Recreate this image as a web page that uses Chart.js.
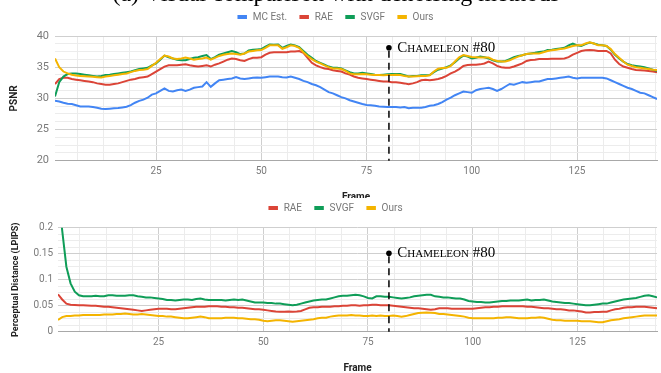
<!DOCTYPE html>
<html>
<head>
<meta charset="utf-8">
<script src="https://cdn.jsdelivr.net/npm/chart.js@4.4.1/dist/chart.umd.min.js"></script>
<style>
  html, body { margin: 0; padding: 0; background: #fff; overflow: hidden; }
  #wrap { position: relative; width: 661px; height: 373px; overflow: hidden; background: #fff; }
  #psnr { position: absolute; left: 0; top: 0; }
  #lpips { position: absolute; left: 0; top: 198px; background: #fff; }
</style>
</head>
<body>
<div id="wrap">
  <canvas id="psnr" width="661" height="198"></canvas>
  <canvas id="lpips" width="661" height="175"></canvas>
</div>
<script>
// Frame index shared by both panels
const frames = Array.from({ length: 144 }, (_, i) => i + 1);

// PSNR per frame (dB)
const mcEstPsnr = [
  29.6, 29.5, 29.3, 29.15, 29.1, 28.9, 28.7, 28.7, 28.7, 28.6, 28.5, 28.35,
  28.3, 28.35, 28.4, 28.45, 28.55, 28.65, 28.9, 29.3, 29.6, 29.8, 30.1, 30.6,
  30.8, 31.2, 31.6, 31.2, 31.1, 31.3, 31.4, 31.2, 31.4, 31.7, 31.8, 31.9,
  32.6, 31.85, 32.4, 32.9, 33.0, 33.1, 33.2, 33.4, 33.2, 33.1, 33.2, 33.3,
  33.35, 33.3, 33.4, 33.5, 33.5, 33.5, 33.4, 33.35, 33.5, 33.3, 33.1, 32.8,
  32.6, 32.3, 32.1, 31.8, 31.4, 31.0, 30.8, 30.5, 30.2, 30.0, 29.7, 29.5,
  29.3, 29.1, 28.95, 28.9, 28.8, 28.7, 28.65, 28.6, 28.6, 28.6, 28.55, 28.6,
  28.4, 28.5, 28.5, 28.5, 28.6, 28.8, 28.9, 29.1, 29.4, 29.8, 30.1, 30.5,
  30.8, 31.1, 31.0, 30.9, 31.3, 31.5, 31.6, 31.7, 31.5, 31.2, 31.5, 31.9,
  32.3, 32.2, 32.4, 32.6, 32.5, 32.6, 32.7, 32.7, 32.9, 33.1, 33.1, 33.2,
  33.3, 33.4, 33.5, 33.3, 33.2, 33.3, 33.3, 33.3, 33.3, 33.3, 33.3, 33.2,
  32.9, 32.6, 32.3, 32.0, 31.7, 31.5, 31.2, 30.9, 30.8, 30.5, 30.2, 29.9
];
const raePsnr = [
  32.3, 33.1, 33.3, 33.3, 33.1, 33.0, 32.9, 32.8, 32.7, 32.6, 32.4, 32.3,
  32.2, 32.2, 32.3, 32.4, 32.6, 32.8, 33.0, 33.1, 33.3, 33.4, 33.5, 33.9,
  34.3, 34.7, 35.1, 35.3, 35.3, 35.3, 35.4, 35.45, 35.3, 35.2, 35.1, 35.2,
  35.3, 35.1, 35.4, 35.6, 35.9, 36.2, 36.4, 36.3, 36.1, 36.0, 36.3, 36.5,
  36.5, 36.6, 37.0, 37.3, 37.4, 37.4, 37.4, 37.4, 37.5, 37.5, 37.6, 37.3,
  36.5, 35.7, 35.3, 35.0, 34.8, 34.7, 34.5, 34.4, 34.3, 34.0, 33.8, 33.5,
  33.3, 33.2, 33.1, 33.0, 32.9, 32.8, 32.7, 32.7, 32.6, 32.6, 32.5, 32.4,
  32.25, 32.4, 32.6, 32.9, 33.0, 32.9, 33.0, 33.1, 33.3, 33.6, 34.0, 34.3,
  34.7, 35.2, 35.35, 35.4, 35.4, 35.45, 35.6, 35.9, 35.6, 35.2, 35.0, 34.9,
  34.9, 35.1, 35.35, 35.6, 36.0, 36.15, 36.2, 36.3, 36.3, 36.3, 36.35, 36.35,
  36.35, 36.4, 36.6, 37.0, 37.3, 37.6, 37.7, 37.75, 37.7, 37.6, 37.6, 37.6,
  37.2, 36.2, 35.5, 35.1, 34.9, 34.7, 34.55, 34.5, 34.45, 34.4, 34.3, 34.2
];
const svgfPsnr = [
  30.3, 32.6, 33.5, 33.9, 34.0, 34.0, 33.9, 33.8, 33.7, 33.6, 33.5, 33.6,
  33.75, 33.8, 33.9, 34.0, 34.1, 34.2, 34.3, 34.5, 34.7, 34.8, 34.9, 35.3,
  35.6, 36.2, 36.85, 36.6, 36.4, 36.2, 36.1, 36.1, 36.3, 36.5, 36.6, 36.8,
  36.95, 36.3, 36.6, 37.0, 37.2, 37.4, 37.6, 37.4, 37.1, 37.2, 37.7, 37.8,
  37.85, 37.9, 38.3, 38.65, 38.6, 38.65, 38.1, 38.4, 38.65, 38.5, 38.2, 37.6,
  37.0, 36.5, 36.0, 35.7, 35.4, 35.1, 34.9, 34.9, 34.8, 34.5, 34.2, 34.0,
  34.0, 34.1, 34.0, 33.9, 33.8, 33.75, 33.8, 33.85, 33.9, 33.9, 33.9, 33.7,
  33.5, 33.6, 33.6, 33.7, 33.7, 33.75, 34.2, 34.6, 34.8, 35.0, 35.3, 35.8,
  36.4, 36.85, 36.7, 36.4, 36.5, 36.7, 36.6, 36.4, 36.1, 35.9, 35.9, 36.0,
  36.3, 36.6, 36.8, 36.9, 37.1, 37.2, 37.3, 37.45, 37.5, 37.75, 37.8, 37.9,
  38.0, 38.1, 38.5, 38.8, 38.5, 38.4, 38.7, 38.95, 38.8, 38.6, 38.5, 38.4,
  37.8, 37.0, 36.4, 35.9, 35.5, 35.3, 35.2, 35.1, 35.0, 34.8, 34.6, 34.4
];
const oursPsnr = [
  36.4, 35.0, 34.3, 34.0, 33.8, 33.65, 33.6, 33.55, 33.5, 33.45, 33.4, 33.35,
  33.5, 33.6, 33.7, 33.8, 33.9, 34.0, 34.2, 34.4, 34.55, 34.6, 34.7, 35.2,
  35.7, 36.3, 36.85, 36.7, 36.4, 36.3, 36.4, 36.55, 36.4, 36.2, 36.3, 36.4,
  36.55, 36.2, 36.5, 36.8, 37.0, 37.1, 37.2, 37.1, 37.0, 37.2, 37.5, 37.6,
  37.7, 37.75, 38.1, 38.5, 38.5, 38.5, 37.95, 38.2, 38.5, 38.4, 38.1, 37.4,
  36.8, 36.3, 35.9, 35.6, 35.3, 35.0, 34.8, 34.8, 34.7, 34.4, 34.0, 33.85,
  33.85, 33.9, 33.85, 33.8, 33.75, 33.75, 33.7, 33.75, 33.75, 33.8, 33.75, 33.6,
  33.5, 33.5, 33.55, 33.6, 33.6, 33.7, 34.3, 34.75, 34.85, 34.9, 35.2, 35.9,
  36.6, 36.95, 36.8, 36.65, 36.6, 36.55, 36.55, 36.55, 36.2, 36.0, 35.9, 35.9,
  36.1, 36.4, 36.7, 36.9, 37.1, 37.2, 37.2, 37.2, 37.4, 37.6, 37.7, 37.8,
  37.9, 38.0, 38.2, 38.4, 38.5, 38.5, 38.8, 39.0, 38.8, 38.5, 38.5, 38.4,
  37.9, 37.1, 36.5, 35.9, 35.4, 35.2, 35.0, 34.9, 34.8, 34.7, 34.6, 34.55
];

// Perceptual distance (LPIPS) per frame
const raeLpips = [
  0.072, 0.062, 0.054, 0.052, 0.0515, 0.051, 0.051, 0.0505, 0.050, 0.050, 0.049, 0.048,
  0.048, 0.047, 0.046, 0.045, 0.044, 0.043, 0.042, 0.041, 0.040, 0.041, 0.042, 0.043,
  0.044, 0.044, 0.044, 0.043, 0.043, 0.044, 0.045, 0.046, 0.047, 0.048, 0.048, 0.048,
  0.049, 0.049, 0.049, 0.048, 0.048, 0.047, 0.047, 0.046, 0.046, 0.045, 0.044, 0.043,
  0.043, 0.042, 0.041, 0.040, 0.039, 0.0385, 0.0385, 0.039, 0.0385, 0.039, 0.040, 0.043,
  0.046, 0.047, 0.047, 0.048, 0.048, 0.048, 0.049, 0.049, 0.050, 0.050, 0.051, 0.051,
  0.050, 0.051, 0.051, 0.052, 0.052, 0.051, 0.051, 0.051, 0.050, 0.049, 0.048, 0.047,
  0.046, 0.045, 0.045, 0.044, 0.043, 0.042, 0.043, 0.045, 0.045, 0.045, 0.044, 0.044,
  0.044, 0.044, 0.044, 0.044, 0.045, 0.046, 0.047, 0.047, 0.048, 0.048, 0.049, 0.049,
  0.049, 0.049, 0.049, 0.049, 0.048, 0.048, 0.047, 0.046, 0.045, 0.045, 0.044, 0.043,
  0.043, 0.042, 0.041, 0.041, 0.040, 0.039, 0.037, 0.037, 0.038, 0.038, 0.0385, 0.0385,
  0.041, 0.043, 0.044, 0.046, 0.047, 0.047, 0.048, 0.048, 0.048, 0.047, 0.046, 0.045
];
const svgfLpips = [
  0.27, 0.195, 0.125, 0.093, 0.077, 0.070, 0.068, 0.068, 0.068, 0.069, 0.068, 0.068,
  0.070, 0.070, 0.069, 0.069, 0.069, 0.070, 0.070, 0.068, 0.067, 0.066, 0.066, 0.065,
  0.064, 0.063, 0.061, 0.061, 0.060, 0.061, 0.062, 0.062, 0.061, 0.063, 0.064, 0.062,
  0.061, 0.061, 0.061, 0.061, 0.060, 0.061, 0.062, 0.061, 0.062, 0.060, 0.058, 0.056,
  0.056, 0.056, 0.055, 0.055, 0.054, 0.054, 0.053, 0.052, 0.051, 0.052, 0.054, 0.056,
  0.058, 0.060, 0.061, 0.062, 0.062, 0.064, 0.066, 0.068, 0.069, 0.069, 0.070, 0.071,
  0.070, 0.068, 0.065, 0.064, 0.068, 0.068, 0.067, 0.067, 0.066, 0.065, 0.064, 0.065,
  0.066, 0.068, 0.069, 0.070, 0.071, 0.071, 0.068, 0.067, 0.066, 0.066, 0.065, 0.064,
  0.064, 0.062, 0.059, 0.058, 0.057, 0.057, 0.056, 0.056, 0.057, 0.058, 0.059, 0.059,
  0.060, 0.060, 0.060, 0.061, 0.062, 0.060, 0.061, 0.061, 0.062, 0.060, 0.058, 0.057,
  0.056, 0.055, 0.055, 0.054, 0.053, 0.052, 0.051, 0.051, 0.052, 0.053, 0.054, 0.054,
  0.056, 0.058, 0.060, 0.062, 0.063, 0.064, 0.065, 0.067, 0.069, 0.070, 0.068, 0.066
];
const oursLpips = [
  0.0225, 0.028, 0.030, 0.030, 0.031, 0.031, 0.032, 0.032, 0.032, 0.032, 0.032, 0.033,
  0.033, 0.033, 0.034, 0.034, 0.035, 0.034, 0.033, 0.033, 0.034, 0.033, 0.032, 0.031,
  0.030, 0.030, 0.029, 0.029, 0.028, 0.027, 0.026, 0.026, 0.027, 0.028, 0.029, 0.028,
  0.026, 0.026, 0.026, 0.026, 0.027, 0.027, 0.027, 0.026, 0.026, 0.025, 0.024, 0.024,
  0.023, 0.021, 0.020, 0.021, 0.022, 0.022, 0.021, 0.020, 0.019, 0.020, 0.021, 0.022,
  0.023, 0.024, 0.026, 0.027, 0.027, 0.029, 0.030, 0.031, 0.031, 0.031, 0.032, 0.031,
  0.031, 0.030, 0.030, 0.031, 0.030, 0.031, 0.030, 0.030, 0.031, 0.030, 0.029, 0.030,
  0.032, 0.034, 0.036, 0.0365, 0.037, 0.0365, 0.036, 0.034, 0.034, 0.033, 0.032, 0.031,
  0.030, 0.029, 0.027, 0.026, 0.026, 0.026, 0.026, 0.026, 0.026, 0.027, 0.027, 0.028,
  0.028, 0.027, 0.026, 0.026, 0.026, 0.027, 0.027, 0.028, 0.027, 0.025, 0.023, 0.022,
  0.022, 0.021, 0.021, 0.021, 0.021, 0.020, 0.020, 0.020, 0.019, 0.018, 0.018, 0.020,
  0.022, 0.023, 0.024, 0.026, 0.027, 0.028, 0.029, 0.030, 0.031, 0.031, 0.031, 0.031
];

// Axis ticks: labelled every 25 frames / 5 dB / 0.05, with minor lines in between
const frameTickStep = 6.25;
const frameLabelStep = 25;
const psnrTickStep = 1.25;
const psnrLabelStep = 5;
const lpipsTickStep = 0.0125;
const lpipsLabelStep = 0.05;

// Highlighted frame
const markerFrame = 80;
const markerLabel = 'Chameleon #80';

const captionText = '(a) Visual comparison with denoising methods';

const COLORS = { mc: '#4285F4', rae: '#DB4437', svgf: '#0F9D58', ours: '#F4B400' };
const FONT = 'Roboto, "Liberation Sans", Arial, sans-serif';
const SERIF = '"Liberation Serif", "Times New Roman", serif';

function onStep(v, step) {
  const r = v / step;
  return Math.abs(r - Math.round(r)) < 1e-6;
}

function fmt(v, step) {
  return String(parseFloat((Math.round(v / step) * step).toFixed(4)));
}

// Grid positions on every multiple of the step inside [min, max]
function gridValues(min, max, step) {
  const out = [];
  for (let k = Math.ceil(min / step - 1e-9); k * step <= max + 1e-9; k++) {
    out.push({ value: Math.round(k * step * 1e6) / 1e6 });
  }
  return out;
}

function series(label, values, color, order) {
  return {
    label,
    data: frames.map((f, i) => ({ x: f, y: values[i] })),
    borderColor: color,
    backgroundColor: color,
    borderWidth: 2,
    pointRadius: 0,
    tension: 0,
    fill: false,
    order
  };
}

function frameAxis(axisHeight) {
  return {
    type: 'linear',
    bounds: 'data',
    min: 1,
    max: 144,
    afterBuildTicks: s => { s.ticks = gridValues(s.min, s.max, frameTickStep); },
    afterFit: s => { s.height = axisHeight; },
    border: { display: true, color: '#a8a8a8', width: 1 },
    grid: {
      drawTicks: false,
      color: c => (c.tick && onStep(c.tick.value, frameLabelStep)) ? '#cfcfcf' : '#ececec'
    },
    ticks: {
      autoSkip: false,
      maxRotation: 0,
      padding: 5,
      color: '#7a7a7a',
      font: { family: FONT, size: 10 },
      callback: v => onStep(v, frameLabelStep) ? fmt(v, frameLabelStep) : ''
    }
  };
}

function valueAxis(min, max, step, labelStep, axisWidth, fontSize, pad) {
  return {
    type: 'linear',
    bounds: 'data',
    min, max,
    afterBuildTicks: s => { s.ticks = gridValues(s.min, s.max, step); },
    afterFit: s => { s.width = axisWidth; },
    border: { display: false },
    grid: {
      drawTicks: false,
      color: c => (c.tick && onStep(c.tick.value, labelStep)) ? '#cfcfcf' : '#ececec'
    },
    ticks: {
      autoSkip: false,
      padding: pad,
      color: '#7a7a7a',
      font: { family: FONT, size: fontSize },
      callback: v => onStep(v, labelStep) ? fmt(v, labelStep) : ''
    }
  };
}

function drawLegend(chart, cx, cy) {
  const ctx = chart.ctx;
  ctx.save();
  ctx.font = '10px ' + FONT;
  const sw = 9.5, sh = 4, gap = 5.7, itemGap = 12.3;
  const items = chart.data.datasets.map(d => ({
    label: d.label, color: d.borderColor, w: ctx.measureText(d.label).width
  }));
  const total = items.reduce((s, it) => s + sw + gap + it.w, 0) + itemGap * (items.length - 1);
  let x = cx - total / 2;
  ctx.textBaseline = 'middle';
  ctx.textAlign = 'left';
  items.forEach(it => {
    ctx.fillStyle = it.color;
    ctx.fillRect(x, cy - sh / 2, sw, sh);
    x += sw + gap;
    ctx.fillStyle = '#777777';
    ctx.fillText(it.label, x, cy);
    x += it.w + itemGap;
  });
  ctx.restore();
}

function drawAxisTitles(chart, yTitle, yTitleSize, yTitleX, frameY) {
  const ctx = chart.ctx, a = chart.chartArea;
  ctx.save();
  ctx.fillStyle = '#222222';
  ctx.textAlign = 'center';
  ctx.textBaseline = 'middle';
  ctx.font = 'bold 10px ' + FONT;
  ctx.fillText('Frame', (a.left + a.right) / 2, frameY);
  ctx.translate(yTitleX, (a.top + a.bottom) / 2);
  ctx.rotate(-Math.PI / 2);
  ctx.font = 'bold ' + yTitleSize + 'px ' + FONT;
  ctx.fillText(yTitle, 0, 0);
  ctx.restore();
}

let lpipsChart = null;

// Both panels share the page's left edge, so the marker uses the lower panel's frame scale
function markerX(chart) {
  const src = lpipsChart || chart;
  return src.scales.x.getPixelForValue(markerFrame);
}

function drawMarker(chart, dotOffset) {
  const ctx = chart.ctx, a = chart.chartArea;
  const x = markerX(chart);
  const y = a.top + dotOffset;
  ctx.save();
  ctx.strokeStyle = '#000';
  ctx.lineWidth = 1.5;
  ctx.setLineDash([7, 5]);
  ctx.beginPath();
  ctx.moveTo(x, y + 3);
  ctx.lineTo(x, a.bottom);
  ctx.stroke();
  ctx.setLineDash([]);
  ctx.fillStyle = '#000';
  ctx.beginPath();
  ctx.arc(x, y, 2.8, 0, Math.PI * 2);
  ctx.fill();
  ctx.font = 'small-caps 15px ' + SERIF;
  try { ctx.fontVariantCaps = 'small-caps'; } catch (e) {}
  ctx.textAlign = 'left';
  ctx.textBaseline = 'middle';
  ctx.fillText(markerLabel, x + 8.3, y);
  ctx.restore();
}

const psnrDecor = {
  id: 'psnrDecor',
  afterDraw(chart) {
    const ctx = chart.ctx;
    ctx.save();
    ctx.fillStyle = '#000';
    ctx.font = '24px ' + SERIF;
    ctx.textAlign = 'center';
    ctx.textBaseline = 'alphabetic';
    ctx.fillText(captionText, 336, 0.5);
    ctx.restore();
    drawLegend(chart, 335.5, 17);
    drawAxisTitles(chart, 'PSNR', 10, 14, 197);
    drawMarker(chart, 11.7);
  }
};

const lpipsDecor = {
  id: 'lpipsDecor',
  afterDraw(chart) {
    drawLegend(chart, 335.5, 10);
    drawAxisTitles(chart, 'Perceptual Distance (LPIPS)', 9, 15.5, 170.6);
    drawMarker(chart, 25.6);
  }
};

const psnrChart = new Chart(document.getElementById('psnr'), {
  type: 'line',
  data: {
    datasets: [
      series('MC Est.', mcEstPsnr, COLORS.mc, 3),
      series('RAE', raePsnr, COLORS.rae, 2),
      series('SVGF', svgfPsnr, COLORS.svgf, 1),
      series('Ours', oursPsnr, COLORS.ours, 0)
    ]
  },
  options: {
    responsive: false,
    animation: false,
    events: [],
    layout: { padding: { top: 36, right: 3, left: 0, bottom: 0 } },
    plugins: { legend: { display: false }, tooltip: { enabled: false } },
    scales: {
      x: frameAxis(37.3),
      y: valueAxis(20, 40, psnrTickStep, psnrLabelStep, 55, 11, 6)
    }
  },
  plugins: [psnrDecor]
});

lpipsChart = new Chart(document.getElementById('lpips'), {
  type: 'line',
  data: {
    datasets: [
      series('RAE', raeLpips, COLORS.rae, 2),
      series('SVGF', svgfLpips, COLORS.svgf, 1),
      series('Ours', oursLpips, COLORS.ours, 0)
    ]
  },
  options: {
    responsive: false,
    animation: false,
    events: [],
    layout: { padding: { top: 29.7, right: 1, left: 0, bottom: 0 } },
    plugins: { legend: { display: false }, tooltip: { enabled: false } },
    scales: {
      x: frameAxis(41.3),
      y: valueAxis(0, 0.2, lpipsTickStep, lpipsLabelStep, 58, 10, 5)
    }
  },
  plugins: [lpipsDecor]
});

psnrChart.draw();
</script>
</body>
</html>
